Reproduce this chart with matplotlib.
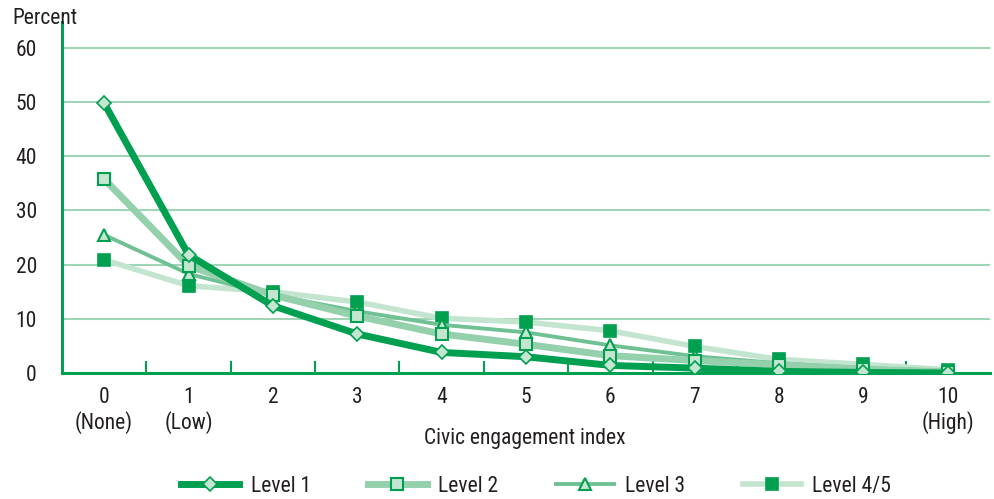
import matplotlib
matplotlib.use("Agg")
import matplotlib.pyplot as plt
import numpy as np

categories = ["0\n(None)", "1\n(Low)", "2", "3", "4", "5", "6", "7", "8", "9", "10\n(High)"]
level1 = [49.8, 21.8, 12.4, 7.2, 3.8, 3.0, 1.4, 0.9, 0.3, 0.1, 0.0]
level2 = [35.8, 19.8, 14.4, 10.5, 7.2, 5.3, 3.2, 2.3, 1.5, 0.7, 0.2]
level3 = [25.5, 18.3, 14.4, 11.4, 8.9, 7.5, 5.1, 3.1, 1.8, 0.9, 0.4]
level45 = [20.9, 16.1, 15.0, 13.1, 10.1, 9.4, 7.8, 4.9, 2.5, 1.6, 0.6]
series_names = ["Level 1", "Level 2", "Level 3", "Level 4/5"]
yticks = [0, 10, 20, 30, 40, 50, 60]

plt.rcParams['font.family'] = ['Roboto Condensed', 'DejaVu Sans']

DARK = "#00A050"
LIGHT = "#C4E6D1"
TXT = "#231F20"
FS = 15.5

fig = plt.figure(figsize=(9.95, 4.99), dpi=100)
ax = fig.add_axes([0.0623, 0.2525, 0.9327, 0.7035])
x = np.arange(len(categories))

ax.set_ylim(0, 64.8)
ax.set_xlim(-0.5, 10.5)
for yv in yticks[1:]:
    ax.axhline(yv, color="#9FD4B4", lw=1.5, zorder=1)

ax.plot(x, level45, color="#C3E5CF", lw=4, marker="s", ms=9, mfc=DARK, mec=DARK, mew=1.2, zorder=3, label=series_names[3])
ax.plot(x, level3, color="#6FC193", lw=2.8, marker="^", ms=9, mfc=LIGHT, mec=DARK, mew=1.5, zorder=4, label=series_names[2])
ax.plot(x, level2, color="#94D0AC", lw=5, marker="s", ms=9, mfc=LIGHT, mec=DARK, mew=1.5, zorder=5, label=series_names[1])
ax.plot(x, level1, color=DARK, lw=5, marker="D", ms=7.5, mfc=LIGHT, mec=DARK, mew=1.2, zorder=6, label=series_names[0])

for s in ["top", "right"]:
    ax.spines[s].set_visible(False)
for s in ["left", "bottom"]:
    ax.spines[s].set_color(DARK)
    ax.spines[s].set_linewidth(2.2)

ax.set_yticks(yticks)
ax.set_yticklabels([str(v) for v in yticks], fontsize=FS, color=TXT)
ax.tick_params(axis="y", length=0, pad=18)
ax.set_xticks(x)
ax.set_xticklabels(categories, fontsize=FS, color=TXT, linespacing=1.2)
ax.tick_params(axis="x", length=0, pad=10)
ax.set_xticks(x[:-1] + 0.5, minor=True)
ax.tick_params(axis="x", which="minor", direction="in", length=9, width=1.5, color=DARK)

fig.text(0.012, 0.963, "Percent", fontsize=FS, color=TXT, ha="left", va="center")
fig.text(0.527, 0.121, "Civic engagement index", fontsize=FS, color=TXT, ha="center", va="center")

handles, labels = ax.get_legend_handles_labels()
order = [3, 2, 1, 0]
leg = fig.legend([handles[i] for i in order], [labels[i] for i in order], loc="center",
                 bbox_to_anchor=(0.539, 0.026), ncol=4, frameon=False, fontsize=FS,
                 handlelength=2.7, columnspacing=2.65, handletextpad=0.55, labelcolor=TXT)

fig.savefig("out.png", dpi=100)
